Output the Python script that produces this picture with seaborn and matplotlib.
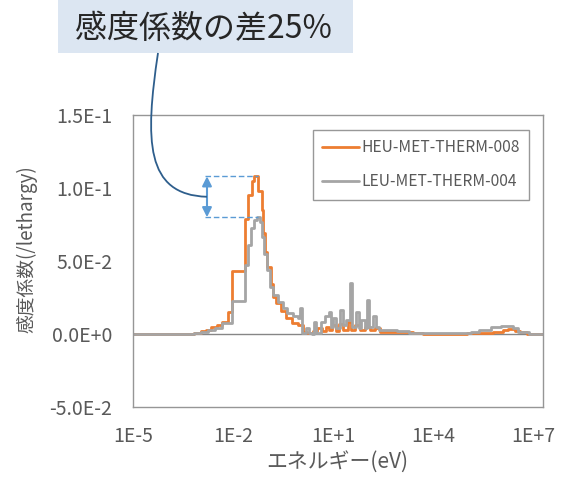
import numpy as np
import pandas as pd
import matplotlib
matplotlib.use('Agg')
import matplotlib.pyplot as plt
import seaborn as sns
from matplotlib.ticker import FixedLocator, FuncFormatter
from matplotlib.patches import Rectangle, PathPatch
from matplotlib.path import Path

# Series labels
A = 'HEU-MET-THERM-008'
B = 'LEU-MET-THERM-004'

# HEU: bin start energy (log10 eV) and sensitivity per lethargy
heu_log_e = [-5.0, -3.977, -3.465, -3.159, -2.954, -2.800, -2.647, -2.493, -2.340, -2.156, -2.033,
             -1.644, -1.552, -1.440, -1.378, -1.245, -1.143, -1.102, -1.051, -0.969, -0.867,
             -0.785, -0.703, -0.550, -0.396, -0.243, -0.039, 0.095, 0.207, 0.392, 0.524,
             0.678, 0.780, 0.882, 0.985, 1.087, 1.189, 1.292, 1.445, 1.548, 1.650, 1.804,
             1.957, 2.111, 2.264, 2.418, 2.878, 3.389, 3.696, 5.026, 5.435, 5.793, 6.100,
             6.253, 6.458, 6.611, 6.816, 7.072, 7.301]
heu_sens = [0.0, 0.0001, 0.0003, 0.0008, 0.0018, 0.003, 0.0045, 0.006, 0.008, 0.015, 0.043,
            0.079, 0.095, 0.105, 0.108, 0.098, 0.085, 0.069, 0.056, 0.046, 0.034,
            0.0255, 0.021, 0.016, 0.011, 0.0075, 0.006, 0.0016, 0.001, 0.002, 0.004,
            0.002, 0.005, 0.003, 0.006, 0.002, 0.007, 0.003, 0.008, 0.003, 0.006, 0.003,
            0.005, 0.003, 0.004, 0.0015, 0.0012, 0.0008, 0.0003, 0.0005, 0.0008, 0.0016, 0.0028,
            0.0033, 0.0022, 0.0012, 0.0003, 0.0, 0.0]

# LEU: bin start energy (log10 eV) and sensitivity per lethargy
leu_log_e = [-5.0, -3.977, -3.465, -3.159, -2.954, -2.749, -2.544, -2.340, -2.033, -1.644, -1.552,
             -1.470, -1.378, -1.286, -1.194, -1.133, -1.061, -0.979, -0.887, -0.795, -0.641,
             -0.499, -0.376, -0.212, -0.059, 0.023, 0.085, 0.177, 0.269, 0.371, 0.433,
             0.484, 0.647, 0.770, 0.872, 0.954, 1.015, 1.097, 1.210, 1.312, 1.384, 1.497,
             1.558, 1.681, 1.773, 1.855, 1.947, 2.019, 2.090, 2.213, 2.305, 2.387, 2.929,
             3.287, 3.696, 5.128, 5.384, 5.742, 6.049, 6.407, 6.560, 6.867, 7.301]
leu_sens = [0.0, 0.0001, 0.0002, 0.0006, 0.0013, 0.0025, 0.004, 0.0075, 0.0226, 0.047, 0.061,
            0.0726, 0.078, 0.080, 0.077, 0.0667, 0.055, 0.044, 0.032, 0.0267, 0.022,
            0.018, 0.0144, 0.012, 0.011, 0.018, 0.0005, 0.004, 0.001, 0.0, 0.0085,
            0.001, 0.008, 0.012, 0.015, 0.005, 0.011, 0.004, 0.0164, 0.006, 0.0096, 0.0347,
            0.005, 0.015, 0.004, 0.0096, 0.004, 0.023, 0.005, 0.012, 0.005, 0.003, 0.0018,
            0.001, 0.0007, 0.0012, 0.0027, 0.0046, 0.0055, 0.004, 0.0014, 0.0003, 0.0]

x_ticks = [1e-5, 1e-2, 1e1, 1e4, 1e7]
x_tick_labels = ['1E-5', '1E-2', '1E+1', '1E+4', '1E+7']
y_ticks = [-0.05, 0.0, 0.05, 0.10, 0.15]

df_A = pd.DataFrame({'E': np.power(10.0, heu_log_e), 'S': heu_sens})
df_B = pd.DataFrame({'E': np.power(10.0, leu_log_e), 'S': leu_sens})

sns.set_style("white")
plt.rcParams['font.family'] = ['Noto Sans CJK JP', 'DejaVu Sans']

text_gray = '#595959'
orange = '#ED7D31'
gray = '#A5A5A5'
blue = '#5B9BD5'

fig = plt.figure(figsize=(5.61, 4.86), dpi=100)
ax = fig.add_axes([133 / 561, 1 - 407 / 486, 410 / 561, 292 / 486])

sns.lineplot(data=df_A, x='E', y='S', ax=ax, color=orange, linewidth=2.0,
             drawstyle='steps-post', label=A, sort=False)
sns.lineplot(data=df_B, x='E', y='S', ax=ax, color=gray, linewidth=2.0,
             drawstyle='steps-post', label=B, sort=False)

ax.set_xscale('log')
ax.set_xlim(1e-5, 2e7)
ax.set_ylim(-0.05, 0.15)
ax.axhline(0, color='#868686', linewidth=1.0, zorder=1)

ax.xaxis.set_major_locator(FixedLocator(x_ticks))
ax.xaxis.set_minor_locator(FixedLocator([]))
ax.set_xticklabels(x_tick_labels)
ax.yaxis.set_major_locator(FixedLocator(y_ticks))


def excel_sci(v, _):
    if abs(v) < 1e-12:
        return '0.0E+0'
    exp = int(np.floor(np.log10(abs(v)) + 1e-9))
    mant = v / 10 ** exp
    sign = '+' if exp >= 0 else '-'
    return '{:.1f}E{}{}'.format(mant, sign, abs(exp))


ax.yaxis.set_major_formatter(FuncFormatter(excel_sci))
ax.tick_params(axis='both', length=0, labelsize=14, colors=text_gray)
ax.tick_params(axis='y', pad=15)
ax.tick_params(axis='x', pad=14)

for s in ax.spines.values():
    s.set_color('#969696')
    s.set_linewidth(1.0)

ax.set_xlabel('エネルギー(eV)', fontsize=15, color=text_gray)
ax.set_ylabel('感度係数(/lethargy)', fontsize=13.5, color=text_gray)
ax.xaxis.set_label_coords(0.4976, -0.150)
ax.yaxis.set_label_coords(-0.232, 0.54)

leg = ax.legend(loc='upper right', bbox_to_anchor=(529 / 561, 1 - 130 / 486),
                bbox_transform=fig.transFigure, fontsize=11.2, frameon=True,
                fancybox=False, handlelength=2.35, handletextpad=0.15,
                labelspacing=1.1, borderpad=0.6, borderaxespad=0)
leg.get_frame().set_edgecolor('#7f7f7f')
leg.get_frame().set_linewidth(1.0)
for t in leg.get_texts():
    t.set_color(text_gray)

# difference marker between the two peaks
peak_A = max(heu_sens)
peak_B = max(leu_sens)
x0, x1, xa = 10 ** -2.852, 10 ** -1.256, 10 ** -2.78
ax.hlines([peak_A, peak_B], x0, x1, colors=blue, linestyles=(0, (4, 2)), linewidth=1.0)
ax.annotate('', xy=(xa, peak_A), xytext=(xa, peak_B),
            arrowprops=dict(arrowstyle='<|-|>', color=blue, lw=1.5,
                            mutation_scale=14, shrinkA=0, shrinkB=0))

# callout box
fig.patches.append(Rectangle((58 / 561, 1 - 53 / 486), 295 / 561, 53 / 486,
                             transform=fig.transFigure, facecolor='#DCE6F2',
                             edgecolor='none', zorder=0))
fig.text(203 / 561, 1 - 29 / 486, '感度係数の差25%', fontsize=23, color='#262626',
         ha='center', va='center')

# curved leader from box to arrow
to_fig = ax.transData + fig.transFigure.inverted()
ex, ey = to_fig.transform((xa, (peak_A + peak_B) / 2))
verts = [(158 / 561, 1 - 53 / 486), (145 / 561, 1 - 140 / 486),
         (145 / 561, 1 - 195 / 486), (ex, ey)]
leader = PathPatch(Path(verts, [Path.MOVETO, Path.CURVE4, Path.CURVE4, Path.CURVE4]),
                   transform=fig.transFigure, facecolor='none',
                   edgecolor='#2E5E8C', linewidth=1.3)
fig.patches.append(leader)

plt.savefig('out.png', dpi=100)
